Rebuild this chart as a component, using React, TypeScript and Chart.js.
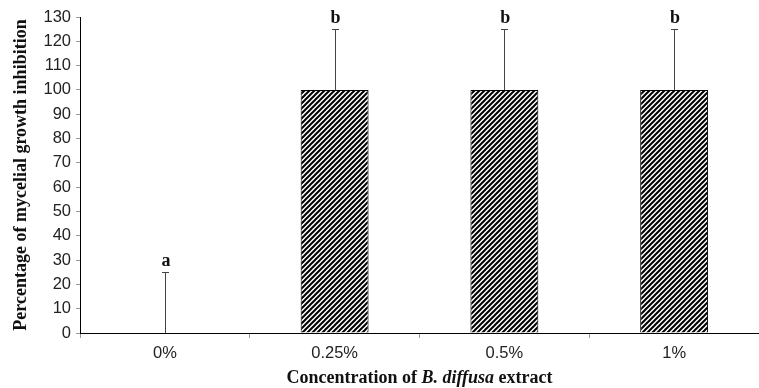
import React, { useEffect, useRef } from "react";
import { Chart, registerables } from "chart.js";

Chart.register(...registerables);

const categories = ["0%", "0.25%", "0.5%", "1%"];
const values = [0, 100, 100, 100];
const errors = [25, 25, 25, 25];
const letters = ["a", "b", "b", "b"];
const yTicks = [0, 130, 10];

function makePattern(): CanvasPattern | string {
  const s = 5;
  const c = document.createElement("canvas");
  c.width = s;
  c.height = s;
  const g = c.getContext("2d");
  if (!g) return "#000";
  g.fillStyle = "#fff";
  g.fillRect(0, 0, s, s);
  g.strokeStyle = "#000";
  g.lineWidth = 2;
  g.beginPath();
  g.moveTo(0, s);
  g.lineTo(s, 0);
  g.moveTo(-1, 1);
  g.lineTo(1, -1);
  g.moveTo(s - 1, s + 1);
  g.lineTo(s + 1, s - 1);
  g.stroke();
  return g.createPattern(c, "repeat") || "#000";
}

const errorPlugin = {
  id: "errBars",
  afterDatasetsDraw(chart: any) {
    const ctx = chart.ctx;
    const meta = chart.getDatasetMeta(0);
    const y = chart.scales.y;
    ctx.save();
    meta.data.forEach((bar: any, i: number) => {
      const x = bar.x;
      const top = y.getPixelForValue(values[i] + errors[i]);
      const base = y.getPixelForValue(values[i]);
      ctx.strokeStyle = "#444";
      ctx.lineWidth = 1;
      ctx.beginPath();
      ctx.moveTo(Math.round(x) + 0.5, base);
      ctx.lineTo(Math.round(x) + 0.5, top);
      ctx.moveTo(Math.round(x) - 3, Math.round(top) + 0.5);
      ctx.lineTo(Math.round(x) + 4, Math.round(top) + 0.5);
      ctx.stroke();
      ctx.fillStyle = "#111";
      ctx.font = "bold 18px 'Liberation Serif', 'Times New Roman', serif";
      ctx.textAlign = "center";
      ctx.textBaseline = "alphabetic";
      ctx.fillText(letters[i], x + 1, top - 6);
    });
    // x axis title with italic part
    const parts = [
      { t: "Concentration of ", f: "bold 18px 'Liberation Serif', serif" },
      { t: "B. diffusa", f: "italic bold 18px 'Liberation Serif', serif" },
      { t: " extract", f: "bold 18px 'Liberation Serif', serif" },
    ];
    let total = 0;
    parts.forEach((p) => {
      ctx.font = p.f;
      total += ctx.measureText(p.t).width;
    });
    const area = chart.chartArea;
    let cx = (area.left + area.right) / 2 - total / 2;
    ctx.textAlign = "left";
    ctx.fillStyle = "#111";
    parts.forEach((p) => {
      ctx.font = p.f;
      ctx.fillText(p.t, cx, 383);
      cx += ctx.measureText(p.t).width;
    });
    ctx.restore();
  },
};

export default function App() {
  const ref = useRef<HTMLCanvasElement>(null);
  useEffect(() => {
    document.body.style.margin = "0";
    const canvas = ref.current;
    if (!canvas) return;
    const pattern = makePattern();
    const chart = new Chart(canvas, {
      type: "bar",
      data: {
        labels: categories,
        datasets: [
          {
            data: values,
            backgroundColor: pattern as any,
            borderColor: "#000",
            borderWidth: 1,
            barPercentage: 0.4,
            categoryPercentage: 1,
          },
        ],
      },
      options: {
        responsive: false,
        animation: false,
        layout: { padding: { top: 17, right: 0, left: 0, bottom: 0 } },
        plugins: { legend: { display: false }, tooltip: { enabled: false } },
        scales: {
          x: {
            grid: {
              display: true,
              drawOnChartArea: false,
              drawTicks: true,
              tickLength: 5,
              color: "#999",
              offset: true,
            },
            border: { display: true, color: "#000", width: 1 },
            ticks: {
              color: "#222",
              font: { family: "'Liberation Sans', Arial, sans-serif", size: 16.5 },
              padding: 6,
            },
            afterFit(scale: any) {
              scale.height = 55;
            },
          },
          y: {
            min: yTicks[0],
            max: yTicks[1],
            grid: {
              display: true,
              drawOnChartArea: false,
              drawTicks: true,
              tickLength: 4,
              color: "#999",
            },
            border: { display: true, color: "#000", width: 1 },
            ticks: {
              stepSize: yTicks[2],
              color: "#222",
              font: { family: "'Liberation Sans', Arial, sans-serif", size: 16.5 },
              padding: 5,
            },
            title: {
              display: true,
              text: "Percentage of mycelial growth inhibition",
              color: "#111",
              font: { family: "'Liberation Serif', 'Times New Roman', serif", size: 18, weight: "bold" },
              padding: { top: 11, bottom: 4 },
            },
            afterFit(scale: any) {
              scale.width = 80;
            },
          },
        },
      },
      plugins: [errorPlugin],
    });
    return () => chart.destroy();
  }, []);
  return <canvas ref={ref} width={759} height={388} style={{ display: "block" }} />;
}
